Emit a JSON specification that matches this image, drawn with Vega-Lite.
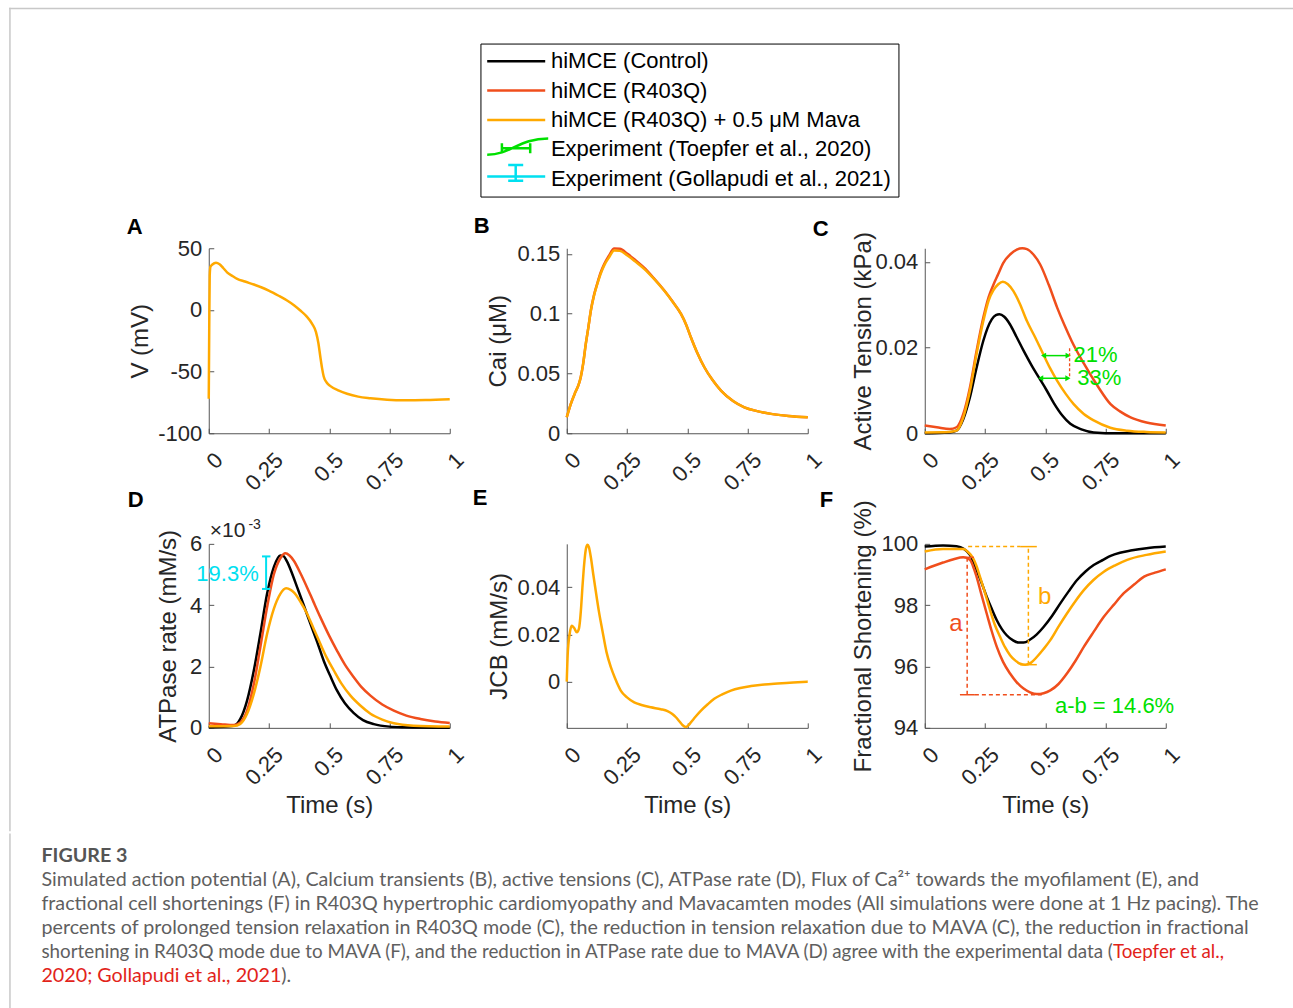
{
"$schema": "https://vega.github.io/schema/vega-lite/v6.json",
"background": "white",
"padding": {"left": 8.75, "top": 7.25, "right": 0, "bottom": 0},
"center": false,
"spacing": 0,
"vconcat": [
{
"columns": 3,
"bounds": "flush",
"spacing": {"row": 110.6, "column": 117},
"concat": [
{
"width": 241, "height": 185,
"title": {"text": "A", "anchor": "start", "frame": "group", "offset": 0, "baseline": "alphabetic", "dx": -82, "dy": 248.45, "fontSize": 22, "fontWeight": "bold", "font": "Liberation Sans", "color": "#000000"},
"layer": [
{
"data": {"values": [{"t": -0.8249, "t2": 4.4987, "v": 244.35, "v2": 244.35}, {"t": -0.8249, "t2": -0.8249, "v": 244.35, "v2": -422.14}]},
"mark": {"type": "rule", "color": "#c8c8c8", "strokeWidth": 1.5, "strokeCap": "square"},
"encoding": {"x": {"field": "t", "type": "quantitative"}, "x2": {"field": "t2"}, "y": {"field": "v", "type": "quantitative"}, "y2": {"field": "v2"}}
},
{
"data": {"values": [
{"s":"o","t":0,"v":-72},{"s":"o","t":0.002,"v":-15},{"s":"o","t":0.004,"v":28},{"s":"o","t":0.007,"v":35},{"s":"o","t":0.015,"v":36.8},{"s":"o","t":0.03,"v":38.3},{"s":"o","t":0.045,"v":37},{"s":"o","t":0.06,"v":34},{"s":"o","t":0.076,"v":30.5},{"s":"o","t":0.1,"v":27.3},{"s":"o","t":0.118,"v":25.2},{"s":"o","t":0.15,"v":23},{"s":"o","t":0.187,"v":20.6},{"s":"o","t":0.22,"v":18.2},{"s":"o","t":0.249,"v":15.7},{"s":"o","t":0.29,"v":11.5},{"s":"o","t":0.325,"v":7.6},{"s":"o","t":0.355,"v":3.6},{"s":"o","t":0.38,"v":-0.5},{"s":"o","t":0.405,"v":-5},{"s":"o","t":0.429,"v":-11.3},{"s":"o","t":0.445,"v":-18},{"s":"o","t":0.455,"v":-27},{"s":"o","t":0.463,"v":-38},{"s":"o","t":0.47,"v":-47},{"s":"o","t":0.477,"v":-54},{"s":"o","t":0.49,"v":-59},{"s":"o","t":0.505,"v":-61.8},{"s":"o","t":0.54,"v":-65.5},{"s":"o","t":0.574,"v":-68},{"s":"o","t":0.62,"v":-70.3},{"s":"o","t":0.671,"v":-71.6},{"s":"o","t":0.74,"v":-72.8},{"s":"o","t":0.809,"v":-73.3},{"s":"o","t":0.9,"v":-73.1},{"s":"o","t":1,"v":-72.4}
]},
"mark": {"type": "line", "strokeWidth": 2.5, "interpolate": "monotone"},
"encoding": {
"x": {"field": "t", "type": "quantitative", "scale": {"domain": [0, 1], "nice": false, "zero": false}, "axis": {"values": [0, 0.25, 0.5, 0.75, 1], "labelExpr": "''+datum.value", "title": null}},
"y": {"field": "v", "type": "quantitative", "scale": {"domain": [-100, 50], "nice": false, "zero": false}, "axis": {"values": [-100, -50, 0, 50], "labelExpr": "''+datum.value", "title": "V (mV)", "titlePadding": 5}},
"color": {"field": "s", "type": "nominal", "scale": {"domain": ["k","r","o","g","c"], "range": ["#000000","#f04e1c","#ffa900","#00e000","#00e0f0"]},
"legend": {"title": null, "orient": "none", "legendX": 271.7, "legendY": -204.7, "direction": "vertical", "labelFont": "Liberation Sans", "labelFontSize": 22, "labelColor": "#000000", "labelLimit": 0, "labelOffset": 41.75, "symbolSize": 100, "symbolStrokeWidth": 2.5, "symbolType": "M-2.2,0 L9.4,0", "rowPadding": -0.7, "padding": 6.75, "strokeColor": "#000000", "fillColor": "#ffffff",
"labelExpr": "datum.value=='k'?'hiMCE (Control)':datum.value=='r'?'hiMCE (R403Q)':datum.value=='o'?'hiMCE (R403Q) + 0.5 μM Mava':datum.value=='g'?'Experiment (Toepfer et al., 2020)':'Experiment (Gollapudi et al., 2021)'",
"encode": {"symbols": {"update": {"fill": {"value": "transparent"}, "shape": {"signal": "datum.value=='g'?'M-2.2,1.1 C2.6,1.1 4.1,-2.14 10,-2.14 M0.74,-0.2 L6.4,-0.2 M0.74,-1.2 L0.74,0.8 M6.4,-1.2 L6.4,0.8 M-2.2,-2.7 l0,0 M-2.2,1.1 l0,0':datum.value=='c'?'M-2.2,-0.4 L9.4,-0.4 M3.5,-2.7 L3.5,0.46 M2,-2.7 L5,-2.7 M2,0.46 L5,0.46 M-2.2,1.1 l0,0':'M-2.2,0 L9.4,0 M-2.2,-2.7 l0,0 M-2.2,1.1 l0,0'"}}}}}}
}
}
]
},
{
"width": 241, "height": 185,
"title": {"text": "B", "anchor": "start", "frame": "group", "offset": 0, "baseline": "alphabetic", "dx": -93, "dy": 12.4, "fontSize": 22, "fontWeight": "bold", "font": "Liberation Sans", "color": "#000000"},
"layer": [
{
"data": {"values": [
{"s":"r","t":0,"v":0.0134},{"s":"r","t":0.017,"v":0.0246},{"s":"r","t":0.035,"v":0.034},{"s":"r","t":0.05,"v":0.041},{"s":"r","t":0.058,"v":0.0468},{"s":"r","t":0.068,"v":0.058},{"s":"r","t":0.079,"v":0.0747},{"s":"r","t":0.09,"v":0.089},{"s":"r","t":0.1,"v":0.1026},{"s":"r","t":0.113,"v":0.1155},{"s":"r","t":0.127,"v":0.1255},{"s":"r","t":0.14,"v":0.134},{"s":"r","t":0.155,"v":0.1412},{"s":"r","t":0.175,"v":0.1485},{"s":"r","t":0.197,"v":0.1545},{"s":"r","t":0.22,"v":0.1542},{"s":"r","t":0.252,"v":0.15},{"s":"r","t":0.285,"v":0.1447},{"s":"r","t":0.321,"v":0.1385},{"s":"r","t":0.36,"v":0.13},{"s":"r","t":0.404,"v":0.1195},{"s":"r","t":0.44,"v":0.1099},{"s":"r","t":0.474,"v":0.0998},{"s":"r","t":0.495,"v":0.091},{"s":"r","t":0.515,"v":0.0803},{"s":"r","t":0.54,"v":0.068},{"s":"r","t":0.571,"v":0.0552},{"s":"r","t":0.605,"v":0.0445},{"s":"r","t":0.64,"v":0.0357},{"s":"r","t":0.69,"v":0.027},{"s":"r","t":0.737,"v":0.0217},{"s":"r","t":0.79,"v":0.0185},{"s":"r","t":0.848,"v":0.0162},{"s":"r","t":0.92,"v":0.0145},{"s":"r","t":1,"v":0.0134},
{"s":"o","t":0,"v":0.0134},{"s":"o","t":0.017,"v":0.0246},{"s":"o","t":0.035,"v":0.034},{"s":"o","t":0.05,"v":0.041},{"s":"o","t":0.058,"v":0.0468},{"s":"o","t":0.068,"v":0.058},{"s":"o","t":0.079,"v":0.0747},{"s":"o","t":0.09,"v":0.089},{"s":"o","t":0.1,"v":0.1026},{"s":"o","t":0.113,"v":0.115},{"s":"o","t":0.127,"v":0.1249},{"s":"o","t":0.14,"v":0.133},{"s":"o","t":0.155,"v":0.1402},{"s":"o","t":0.175,"v":0.147},{"s":"o","t":0.197,"v":0.1528},{"s":"o","t":0.22,"v":0.1525},{"s":"o","t":0.252,"v":0.1486},{"s":"o","t":0.285,"v":0.1435},{"s":"o","t":0.321,"v":0.1375},{"s":"o","t":0.36,"v":0.1295},{"s":"o","t":0.404,"v":0.1193},{"s":"o","t":0.44,"v":0.1098},{"s":"o","t":0.474,"v":0.0998},{"s":"o","t":0.495,"v":0.091},{"s":"o","t":0.515,"v":0.0803},{"s":"o","t":0.54,"v":0.068},{"s":"o","t":0.571,"v":0.0552},{"s":"o","t":0.605,"v":0.0445},{"s":"o","t":0.64,"v":0.0357},{"s":"o","t":0.69,"v":0.027},{"s":"o","t":0.737,"v":0.0217},{"s":"o","t":0.79,"v":0.0185},{"s":"o","t":0.848,"v":0.0162},{"s":"o","t":0.92,"v":0.0145},{"s":"o","t":1,"v":0.0134}
]},
"mark": {"type": "line", "strokeWidth": 2.5, "interpolate": "monotone"},
"encoding": {
"x": {"field": "t", "type": "quantitative", "scale": {"domain": [0, 1], "nice": false, "zero": false}, "axis": {"values": [0, 0.25, 0.5, 0.75, 1], "labelExpr": "''+datum.value", "title": null}},
"y": {"field": "v", "type": "quantitative", "scale": {"domain": [0, 0.1547], "nice": false, "zero": false}, "axis": {"values": [0, 0.05, 0.1, 0.15], "labelExpr": "''+datum.value", "title": "Cai (μM)", "titlePadding": 6.3}},
"color": {"field": "s", "type": "nominal", "scale": {"domain": ["k","r","o","g","c"], "range": ["#000000","#f04e1c","#ffa900","#00e000","#00e0f0"]},
"legend": {"title": null, "orient": "none", "legendX": 271.7, "legendY": -204.7, "direction": "vertical", "labelFont": "Liberation Sans", "labelFontSize": 22, "labelColor": "#000000", "labelLimit": 0, "labelOffset": 41.75, "symbolSize": 100, "symbolStrokeWidth": 2.5, "symbolType": "M-2.2,0 L9.4,0", "rowPadding": -0.7, "padding": 6.75, "strokeColor": "#000000", "fillColor": "#ffffff",
"labelExpr": "datum.value=='k'?'hiMCE (Control)':datum.value=='r'?'hiMCE (R403Q)':datum.value=='o'?'hiMCE (R403Q) + 0.5 μM Mava':datum.value=='g'?'Experiment (Toepfer et al., 2020)':'Experiment (Gollapudi et al., 2021)'",
"encode": {"symbols": {"update": {"fill": {"value": "transparent"}, "shape": {"signal": "datum.value=='g'?'M-2.2,1.1 C2.6,1.1 4.1,-2.14 10,-2.14 M0.74,-0.2 L6.4,-0.2 M0.74,-1.2 L0.74,0.8 M6.4,-1.2 L6.4,0.8 M-2.2,-2.7 l0,0 M-2.2,1.1 l0,0':datum.value=='c'?'M-2.2,-0.4 L9.4,-0.4 M3.5,-2.7 L3.5,0.46 M2,-2.7 L5,-2.7 M2,0.46 L5,0.46 M-2.2,1.1 l0,0':'M-2.2,0 L9.4,0 M-2.2,-2.7 l0,0 M-2.2,1.1 l0,0'"}}}}}}
}
}
]
},
{
"width": 241, "height": 185,
"title": {"text": "C", "anchor": "start", "frame": "group", "offset": 0, "baseline": "alphabetic", "dx": -112, "dy": 26.2, "fontSize": 22, "fontWeight": "bold", "font": "Liberation Sans", "color": "#000000"},
"layer": [
{
"data": {"values": [
{"s":"k","t":0,"v":0},{"s":"k","t":0.1,"v":0.0002},{"s":"k","t":0.132,"v":0.0006},{"s":"k","t":0.16,"v":0.0033},{"s":"k","t":0.1875,"v":0.0084},{"s":"k","t":0.215,"v":0.0153},{"s":"k","t":0.243,"v":0.0216},{"s":"k","t":0.26,"v":0.0245},{"s":"k","t":0.278,"v":0.0266},{"s":"k","t":0.295,"v":0.0276},{"s":"k","t":0.31,"v":0.0278},{"s":"k","t":0.33,"v":0.0272},{"s":"k","t":0.354,"v":0.0254},{"s":"k","t":0.38,"v":0.0226},{"s":"k","t":0.41,"v":0.0193},{"s":"k","t":0.445,"v":0.0157},{"s":"k","t":0.476,"v":0.0128},{"s":"k","t":0.505,"v":0.0101},{"s":"k","t":0.535,"v":0.0071},{"s":"k","t":0.57,"v":0.0042},{"s":"k","t":0.604,"v":0.0022},{"s":"k","t":0.65,"v":0.0009},{"s":"k","t":0.701,"v":0.0002},{"s":"k","t":0.8,"v":0},{"s":"k","t":1,"v":0},
{"s":"r","t":0,"v":0.0018},{"s":"r","t":0.05,"v":0.0014},{"s":"r","t":0.104,"v":0.001},{"s":"r","t":0.132,"v":0.0014},{"s":"r","t":0.16,"v":0.0045},{"s":"r","t":0.1875,"v":0.0107},{"s":"r","t":0.215,"v":0.0192},{"s":"r","t":0.243,"v":0.027},{"s":"r","t":0.265,"v":0.0318},{"s":"r","t":0.285,"v":0.0347},{"s":"r","t":0.305,"v":0.0372},{"s":"r","t":0.326,"v":0.0398},{"s":"r","t":0.355,"v":0.0418},{"s":"r","t":0.382,"v":0.0429},{"s":"r","t":0.405,"v":0.0432},{"s":"r","t":0.424,"v":0.043},{"s":"r","t":0.45,"v":0.0418},{"s":"r","t":0.479,"v":0.0394},{"s":"r","t":0.515,"v":0.0346},{"s":"r","t":0.549,"v":0.0294},{"s":"r","t":0.58,"v":0.0252},{"s":"r","t":0.61,"v":0.0215},{"s":"r","t":0.66,"v":0.0163},{"s":"r","t":0.72,"v":0.0108},{"s":"r","t":0.771,"v":0.0068},{"s":"r","t":0.81,"v":0.0051},{"s":"r","t":0.854,"v":0.0037},{"s":"r","t":0.92,"v":0.0025},{"s":"r","t":1,"v":0.0018},
{"s":"o","t":0,"v":0.0002},{"s":"o","t":0.1,"v":0.0003},{"s":"o","t":0.132,"v":0.0006},{"s":"o","t":0.16,"v":0.0037},{"s":"o","t":0.1875,"v":0.0099},{"s":"o","t":0.215,"v":0.0185},{"s":"o","t":0.243,"v":0.0262},{"s":"o","t":0.265,"v":0.031},{"s":"o","t":0.285,"v":0.0334},{"s":"o","t":0.305,"v":0.0348},{"s":"o","t":0.324,"v":0.0354},{"s":"o","t":0.345,"v":0.0348},{"s":"o","t":0.368,"v":0.0332},{"s":"o","t":0.395,"v":0.0302},{"s":"o","t":0.424,"v":0.0262},{"s":"o","t":0.46,"v":0.0222},{"s":"o","t":0.493,"v":0.0183},{"s":"o","t":0.52,"v":0.0152},{"s":"o","t":0.549,"v":0.0123},{"s":"o","t":0.585,"v":0.0092},{"s":"o","t":0.618,"v":0.0068},{"s":"o","t":0.66,"v":0.0045},{"s":"o","t":0.701,"v":0.003},{"s":"o","t":0.77,"v":0.0013},{"s":"o","t":0.84,"v":0.0006},{"s":"o","t":0.92,"v":0.0003},{"s":"o","t":1,"v":0.0002}
]},
"mark": {"type": "line", "strokeWidth": 2.5, "interpolate": "monotone"},
"encoding": {
"x": {"field": "t", "type": "quantitative", "scale": {"domain": [0, 1], "nice": false, "zero": false}, "axis": {"values": [0, 0.25, 0.5, 0.75, 1], "labelExpr": "''+datum.value", "title": null}},
"y": {"field": "v", "type": "quantitative", "scale": {"domain": [0, 0.0432], "nice": false, "zero": false}, "axis": {"values": [0, 0.02, 0.04], "labelExpr": "''+datum.value", "title": "Active Tension (kPa)", "titlePadding": -1}},
"color": {"field": "s", "type": "nominal", "scale": {"domain": ["k","r","o","g","c"], "range": ["#000000","#f04e1c","#ffa900","#00e000","#00e0f0"]},
"legend": {"title": null, "orient": "none", "legendX": 271.7, "legendY": -204.7, "direction": "vertical", "labelFont": "Liberation Sans", "labelFontSize": 22, "labelColor": "#000000", "labelLimit": 0, "labelOffset": 41.75, "symbolSize": 100, "symbolStrokeWidth": 2.5, "symbolType": "M-2.2,0 L9.4,0", "rowPadding": -0.7, "padding": 6.75, "strokeColor": "#000000", "fillColor": "#ffffff",
"labelExpr": "datum.value=='k'?'hiMCE (Control)':datum.value=='r'?'hiMCE (R403Q)':datum.value=='o'?'hiMCE (R403Q) + 0.5 μM Mava':datum.value=='g'?'Experiment (Toepfer et al., 2020)':'Experiment (Gollapudi et al., 2021)'",
"encode": {"symbols": {"update": {"fill": {"value": "transparent"}, "shape": {"signal": "datum.value=='g'?'M-2.2,1.1 C2.6,1.1 4.1,-2.14 10,-2.14 M0.74,-0.2 L6.4,-0.2 M0.74,-1.2 L0.74,0.8 M6.4,-1.2 L6.4,0.8 M-2.2,-2.7 l0,0 M-2.2,1.1 l0,0':datum.value=='c'?'M-2.2,-0.4 L9.4,-0.4 M3.5,-2.7 L3.5,0.46 M2,-2.7 L5,-2.7 M2,0.46 L5,0.46 M-2.2,1.1 l0,0':'M-2.2,0 L9.4,0 M-2.2,-2.7 l0,0 M-2.2,1.1 l0,0'"}}}}}}
}
},
{
"data": {"values": [{"t":0.49,"t2":0.598,"v":0.01813},{"t":0.478,"t2":0.597,"v":0.01284}]},
"mark": {"type": "rule", "color": "#00e000", "strokeWidth": 1.5},
"encoding": {"x": {"field": "t", "type": "quantitative"}, "x2": {"field": "t2"}, "y": {"field": "v", "type": "quantitative"}}
},
{
"data": {"values": [{"t":0.493,"v":0.01813},{"t":0.481,"v":0.01284}]},
"mark": {"type": "point", "shape": "triangle-left", "filled": true, "color": "#00e000", "size": 35, "opacity": 1},
"encoding": {"x": {"field": "t", "type": "quantitative"}, "y": {"field": "v", "type": "quantitative"}}
},
{
"data": {"values": [{"t":0.595,"v":0.01813},{"t":0.594,"v":0.01284}]},
"mark": {"type": "point", "shape": "triangle-right", "filled": true, "color": "#00e000", "size": 35, "opacity": 1},
"encoding": {"x": {"field": "t", "type": "quantitative"}, "y": {"field": "v", "type": "quantitative"}}
},
{
"data": {"values": [{"t":0.601,"v":0.0133,"v2":0.0200}]},
"mark": {"type": "rule", "color": "#f04e1c", "strokeWidth": 1.3, "strokeDash": [3, 2]},
"encoding": {"x": {"field": "t", "type": "quantitative"}, "y": {"field": "v", "type": "quantitative"}, "y2": {"field": "v2"}}
},
{
"data": {"values": [{"t":0.617,"v":0.01837,"label":"21%"},{"t":0.633,"v":0.0130,"label":"33%"}]},
"mark": {"type": "text", "align": "left", "baseline": "middle", "font": "Liberation Sans", "fontSize": 22, "color": "#00e000"},
"encoding": {"x": {"field": "t", "type": "quantitative"}, "y": {"field": "v", "type": "quantitative"}, "text": {"field": "label"}}
}
]
},
{
"width": 241, "height": 184,
"title": {"text": "D", "anchor": "start", "frame": "group", "offset": 0, "baseline": "alphabetic", "dx": -81, "dy": 11.8, "fontSize": 22, "fontWeight": "bold", "font": "Liberation Sans", "color": "#000000"},
"layer": [
{
"data": {"values": [
{"s":"k","t":0,"v":0.02},{"s":"k","t":0.104,"v":0.07},{"s":"k","t":0.131,"v":0.29},{"s":"k","t":0.159,"v":0.89},{"s":"k","t":0.187,"v":1.87},{"s":"k","t":0.214,"v":3.06},{"s":"k","t":0.242,"v":4.37},{"s":"k","t":0.27,"v":5.24},{"s":"k","t":0.297,"v":5.62},{"s":"k","t":0.31,"v":5.6},{"s":"k","t":0.325,"v":5.42},{"s":"k","t":0.345,"v":5.05},{"s":"k","t":0.367,"v":4.58},{"s":"k","t":0.395,"v":3.98},{"s":"k","t":0.422,"v":3.39},{"s":"k","t":0.45,"v":2.8},{"s":"k","t":0.477,"v":2.19},{"s":"k","t":0.505,"v":1.68},{"s":"k","t":0.532,"v":1.22},{"s":"k","t":0.565,"v":0.8},{"s":"k","t":0.602,"v":0.48},{"s":"k","t":0.64,"v":0.25},{"s":"k","t":0.685,"v":0.12},{"s":"k","t":0.75,"v":0.04},{"s":"k","t":0.81,"v":0.02},{"s":"k","t":1,"v":0},
{"s":"r","t":0,"v":0.15},{"s":"r","t":0.05,"v":0.12},{"s":"r","t":0.104,"v":0.09},{"s":"r","t":0.131,"v":0.18},{"s":"r","t":0.159,"v":0.56},{"s":"r","t":0.187,"v":1.43},{"s":"r","t":0.214,"v":2.63},{"s":"r","t":0.242,"v":3.93},{"s":"r","t":0.27,"v":5.0},{"s":"r","t":0.297,"v":5.53},{"s":"r","t":0.318,"v":5.69},{"s":"r","t":0.335,"v":5.62},{"s":"r","t":0.353,"v":5.45},{"s":"r","t":0.38,"v":5.05},{"s":"r","t":0.408,"v":4.58},{"s":"r","t":0.435,"v":4.1},{"s":"r","t":0.463,"v":3.61},{"s":"r","t":0.5,"v":3.0},{"s":"r","t":0.532,"v":2.52},{"s":"r","t":0.565,"v":2.06},{"s":"r","t":0.602,"v":1.65},{"s":"r","t":0.635,"v":1.32},{"s":"r","t":0.671,"v":1.05},{"s":"r","t":0.72,"v":0.76},{"s":"r","t":0.768,"v":0.56},{"s":"r","t":0.82,"v":0.4},{"s":"r","t":0.878,"v":0.29},{"s":"r","t":0.94,"v":0.21},{"s":"r","t":1,"v":0.16},
{"s":"o","t":0,"v":0.05},{"s":"o","t":0.104,"v":0.06},{"s":"o","t":0.131,"v":0.13},{"s":"o","t":0.159,"v":0.46},{"s":"o","t":0.187,"v":1.11},{"s":"o","t":0.214,"v":1.98},{"s":"o","t":0.242,"v":3.06},{"s":"o","t":0.27,"v":3.88},{"s":"o","t":0.297,"v":4.37},{"s":"o","t":0.321,"v":4.55},{"s":"o","t":0.34,"v":4.5},{"s":"o","t":0.353,"v":4.42},{"s":"o","t":0.38,"v":4.12},{"s":"o","t":0.408,"v":3.72},{"s":"o","t":0.435,"v":3.24},{"s":"o","t":0.463,"v":2.74},{"s":"o","t":0.49,"v":2.28},{"s":"o","t":0.519,"v":1.87},{"s":"o","t":0.55,"v":1.45},{"s":"o","t":0.588,"v":1.05},{"s":"o","t":0.63,"v":0.72},{"s":"o","t":0.671,"v":0.46},{"s":"o","t":0.72,"v":0.27},{"s":"o","t":0.768,"v":0.15},{"s":"o","t":0.85,"v":0.07},{"s":"o","t":1,"v":0.04}
]},
"mark": {"type": "line", "strokeWidth": 2.5, "interpolate": "monotone"},
"encoding": {
"x": {"field": "t", "type": "quantitative", "scale": {"domain": [0, 1], "nice": false, "zero": false}, "axis": {"values": [0, 0.25, 0.5, 0.75, 1], "labelExpr": "''+datum.value", "title": "Time (s)"}},
"y": {"field": "v", "type": "quantitative", "scale": {"domain": [0, 6], "nice": false, "zero": false}, "axis": {"values": [0, 2, 4, 6], "labelExpr": "''+datum.value", "title": "ATPase rate (mM/s)", "titlePadding": 9.3}},
"color": {"field": "s", "type": "nominal", "scale": {"domain": ["k","r","o","g","c"], "range": ["#000000","#f04e1c","#ffa900","#00e000","#00e0f0"]},
"legend": {"title": null, "orient": "none", "legendX": 271.7, "legendY": -204.7, "direction": "vertical", "labelFont": "Liberation Sans", "labelFontSize": 22, "labelColor": "#000000", "labelLimit": 0, "labelOffset": 41.75, "symbolSize": 100, "symbolStrokeWidth": 2.5, "symbolType": "M-2.2,0 L9.4,0", "rowPadding": -0.7, "padding": 6.75, "strokeColor": "#000000", "fillColor": "#ffffff",
"labelExpr": "datum.value=='k'?'hiMCE (Control)':datum.value=='r'?'hiMCE (R403Q)':datum.value=='o'?'hiMCE (R403Q) + 0.5 μM Mava':datum.value=='g'?'Experiment (Toepfer et al., 2020)':'Experiment (Gollapudi et al., 2021)'",
"encode": {"symbols": {"update": {"fill": {"value": "transparent"}, "shape": {"signal": "datum.value=='g'?'M-2.2,1.1 C2.6,1.1 4.1,-2.14 10,-2.14 M0.74,-0.2 L6.4,-0.2 M0.74,-1.2 L0.74,0.8 M6.4,-1.2 L6.4,0.8 M-2.2,-2.7 l0,0 M-2.2,1.1 l0,0':datum.value=='c'?'M-2.2,-0.4 L9.4,-0.4 M3.5,-2.7 L3.5,0.46 M2,-2.7 L5,-2.7 M2,0.46 L5,0.46 M-2.2,1.1 l0,0':'M-2.2,0 L9.4,0 M-2.2,-2.7 l0,0 M-2.2,1.1 l0,0'"}}}}}}
}
},
{
"data": {"values": [{"t":0.238,"t2":0.238,"v":4.53,"v2":5.59},{"t":0.221,"t2":0.256,"v":5.59,"v2":5.59},{"t":0.221,"t2":0.256,"v":4.53,"v2":4.53}]},
"mark": {"type": "rule", "color": "#00e0f0", "strokeWidth": 2},
"encoding": {"x": {"field": "t", "type": "quantitative"}, "x2": {"field": "t2"}, "y": {"field": "v", "type": "quantitative"}, "y2": {"field": "v2"}}
},
{
"data": {"values": [{"t":0.2075,"v":5.02,"label":"19.3%"}]},
"mark": {"type": "text", "align": "right", "baseline": "middle", "font": "Liberation Sans", "fontSize": 22, "color": "#00e0f0"},
"encoding": {"x": {"field": "t", "type": "quantitative"}, "y": {"field": "v", "type": "quantitative"}, "text": {"field": "label"}}
},
{
"data": {"values": [{"t":0,"v":6,"label":"×10"}]},
"mark": {"type": "text", "align": "left", "baseline": "alphabetic", "dx": 1, "dy": -6.6, "font": "Liberation Sans", "fontSize": 21, "color": "#262626"},
"encoding": {"x": {"field": "t", "type": "quantitative"}, "y": {"field": "v", "type": "quantitative"}, "text": {"field": "label"}}
},
{
"data": {"values": [{"t":0,"v":6,"label":"-3"}]},
"mark": {"type": "text", "align": "left", "baseline": "alphabetic", "dx": 39.7, "dy": -15.3, "font": "Liberation Sans", "fontSize": 14, "color": "#262626"},
"encoding": {"x": {"field": "t", "type": "quantitative"}, "y": {"field": "v", "type": "quantitative"}, "text": {"field": "label"}}
}
]
},
{
"width": 241, "height": 184,
"title": {"text": "E", "anchor": "start", "frame": "group", "offset": 0, "baseline": "alphabetic", "dx": -94, "dy": -12.3, "fontSize": 22, "fontWeight": "bold", "font": "Liberation Sans", "color": "#000000"},
"layer": [
{
"data": {"values": [
{"s":"o","t":0,"v":0},{"s":"o","t":0.004,"v":0.0117},{"s":"o","t":0.012,"v":0.0202},{"s":"o","t":0.021,"v":0.0237},{"s":"o","t":0.03,"v":0.0228},{"s":"o","t":0.042,"v":0.0209},{"s":"o","t":0.05,"v":0.0222},{"s":"o","t":0.055,"v":0.0258},{"s":"o","t":0.06,"v":0.032},{"s":"o","t":0.065,"v":0.04},{"s":"o","t":0.07,"v":0.047},{"s":"o","t":0.075,"v":0.0527},{"s":"o","t":0.08,"v":0.0565},{"s":"o","t":0.086,"v":0.058},{"s":"o","t":0.092,"v":0.057},{"s":"o","t":0.1,"v":0.0527},{"s":"o","t":0.11,"v":0.0455},{"s":"o","t":0.12,"v":0.0386},{"s":"o","t":0.133,"v":0.03},{"s":"o","t":0.148,"v":0.0216},{"s":"o","t":0.165,"v":0.0125},{"s":"o","t":0.183,"v":0.0061},{"s":"o","t":0.2,"v":0.0015},{"s":"o","t":0.224,"v":-0.0038},{"s":"o","t":0.25,"v":-0.0067},{"s":"o","t":0.28,"v":-0.0088},{"s":"o","t":0.31,"v":-0.0099},{"s":"o","t":0.349,"v":-0.0109},{"s":"o","t":0.39,"v":-0.0117},{"s":"o","t":0.418,"v":-0.0125},{"s":"o","t":0.438,"v":-0.0137},{"s":"o","t":0.453,"v":-0.0151},{"s":"o","t":0.467,"v":-0.0168},{"s":"o","t":0.48,"v":-0.0184},{"s":"o","t":0.494,"v":-0.0192},{"s":"o","t":0.505,"v":-0.0185},{"s":"o","t":0.515,"v":-0.0173},{"s":"o","t":0.535,"v":-0.0148},{"s":"o","t":0.557,"v":-0.0123},{"s":"o","t":0.585,"v":-0.0096},{"s":"o","t":0.612,"v":-0.0073},{"s":"o","t":0.645,"v":-0.0054},{"s":"o","t":0.681,"v":-0.0038},{"s":"o","t":0.72,"v":-0.0027},{"s":"o","t":0.765,"v":-0.0019},{"s":"o","t":0.82,"v":-0.0012},{"s":"o","t":0.875,"v":-0.0008},{"s":"o","t":0.94,"v":-0.0004},{"s":"o","t":1,"v":0}
]},
"mark": {"type": "line", "strokeWidth": 2.5, "interpolate": "monotone"},
"encoding": {
"x": {"field": "t", "type": "quantitative", "scale": {"domain": [0, 1], "nice": false, "zero": false}, "axis": {"values": [0, 0.25, 0.5, 0.75, 1], "labelExpr": "''+datum.value", "title": "Time (s)"}},
"y": {"field": "v", "type": "quantitative", "scale": {"domain": [-0.0196, 0.0584], "nice": false, "zero": false}, "axis": {"values": [0, 0.02, 0.04], "labelExpr": "''+datum.value", "title": "JCB (mM/s)", "titlePadding": 5.3}},
"color": {"field": "s", "type": "nominal", "scale": {"domain": ["k","r","o","g","c"], "range": ["#000000","#f04e1c","#ffa900","#00e000","#00e0f0"]},
"legend": {"title": null, "orient": "none", "legendX": 271.7, "legendY": -204.7, "direction": "vertical", "labelFont": "Liberation Sans", "labelFontSize": 22, "labelColor": "#000000", "labelLimit": 0, "labelOffset": 41.75, "symbolSize": 100, "symbolStrokeWidth": 2.5, "symbolType": "M-2.2,0 L9.4,0", "rowPadding": -0.7, "padding": 6.75, "strokeColor": "#000000", "fillColor": "#ffffff",
"labelExpr": "datum.value=='k'?'hiMCE (Control)':datum.value=='r'?'hiMCE (R403Q)':datum.value=='o'?'hiMCE (R403Q) + 0.5 μM Mava':datum.value=='g'?'Experiment (Toepfer et al., 2020)':'Experiment (Gollapudi et al., 2021)'",
"encode": {"symbols": {"update": {"fill": {"value": "transparent"}, "shape": {"signal": "datum.value=='g'?'M-2.2,1.1 C2.6,1.1 4.1,-2.14 10,-2.14 M0.74,-0.2 L6.4,-0.2 M0.74,-1.2 L0.74,0.8 M6.4,-1.2 L6.4,0.8 M-2.2,-2.7 l0,0 M-2.2,1.1 l0,0':datum.value=='c'?'M-2.2,-0.4 L9.4,-0.4 M3.5,-2.7 L3.5,0.46 M2,-2.7 L5,-2.7 M2,0.46 L5,0.46 M-2.2,1.1 l0,0':'M-2.2,0 L9.4,0 M-2.2,-2.7 l0,0 M-2.2,1.1 l0,0'"}}}}}}
}
}
]
},
{
"width": 241, "height": 184,
"title": {"text": "F", "anchor": "start", "frame": "group", "offset": 0, "baseline": "alphabetic", "dx": -105, "dy": 29.4, "fontSize": 22, "fontWeight": "bold", "font": "Liberation Sans", "color": "#000000"},
"layer": [
{
"data": {"values": [
{"s":"k","t":0,"v":99.91},{"s":"k","t":0.076,"v":99.95},{"s":"k","t":0.132,"v":99.92},{"s":"k","t":0.16,"v":99.85},{"s":"k","t":0.1875,"v":99.64},{"s":"k","t":0.2,"v":99.45},{"s":"k","t":0.215,"v":99.15},{"s":"k","t":0.235,"v":98.75},{"s":"k","t":0.257,"v":98.28},{"s":"k","t":0.278,"v":97.88},{"s":"k","t":0.299,"v":97.51},{"s":"k","t":0.32,"v":97.22},{"s":"k","t":0.34,"v":97.02},{"s":"k","t":0.365,"v":96.86},{"s":"k","t":0.389,"v":96.78},{"s":"k","t":0.41,"v":96.78},{"s":"k","t":0.4375,"v":96.88},{"s":"k","t":0.465,"v":97.05},{"s":"k","t":0.493,"v":97.29},{"s":"k","t":0.528,"v":97.65},{"s":"k","t":0.5625,"v":98.06},{"s":"k","t":0.597,"v":98.45},{"s":"k","t":0.632,"v":98.82},{"s":"k","t":0.667,"v":99.1},{"s":"k","t":0.701,"v":99.31},{"s":"k","t":0.74,"v":99.48},{"s":"k","t":0.771,"v":99.61},{"s":"k","t":0.81,"v":99.71},{"s":"k","t":0.854,"v":99.78},{"s":"k","t":0.92,"v":99.86},{"s":"k","t":1,"v":99.91},
{"s":"r","t":0,"v":99.17},{"s":"r","t":0.076,"v":99.39},{"s":"r","t":0.12,"v":99.5},{"s":"r","t":0.16,"v":99.56},{"s":"r","t":0.1875,"v":99.48},{"s":"r","t":0.2,"v":99.28},{"s":"r","t":0.215,"v":98.93},{"s":"r","t":0.235,"v":98.35},{"s":"r","t":0.257,"v":97.73},{"s":"r","t":0.278,"v":97.15},{"s":"r","t":0.299,"v":96.64},{"s":"r","t":0.325,"v":96.15},{"s":"r","t":0.354,"v":95.77},{"s":"r","t":0.38,"v":95.5},{"s":"r","t":0.41,"v":95.28},{"s":"r","t":0.437,"v":95.16},{"s":"r","t":0.465,"v":95.1},{"s":"r","t":0.493,"v":95.13},{"s":"r","t":0.521,"v":95.22},{"s":"r","t":0.555,"v":95.43},{"s":"r","t":0.59,"v":95.77},{"s":"r","t":0.625,"v":96.18},{"s":"r","t":0.66,"v":96.64},{"s":"r","t":0.7,"v":97.12},{"s":"r","t":0.743,"v":97.62},{"s":"r","t":0.785,"v":98.02},{"s":"r","t":0.826,"v":98.39},{"s":"r","t":0.87,"v":98.68},{"s":"r","t":0.91,"v":98.93},{"s":"r","t":0.955,"v":99.06},{"s":"r","t":1,"v":99.17},
{"s":"o","t":0,"v":99.75},{"s":"o","t":0.076,"v":99.83},{"s":"o","t":0.16,"v":99.83},{"s":"o","t":0.18,"v":99.73},{"s":"o","t":0.201,"v":99.53},{"s":"o","t":0.215,"v":99.27},{"s":"o","t":0.229,"v":98.93},{"s":"o","t":0.25,"v":98.4},{"s":"o","t":0.271,"v":97.84},{"s":"o","t":0.29,"v":97.38},{"s":"o","t":0.3125,"v":96.97},{"s":"o","t":0.333,"v":96.63},{"s":"o","t":0.354,"v":96.37},{"s":"o","t":0.375,"v":96.2},{"s":"o","t":0.396,"v":96.09},{"s":"o","t":0.417,"v":96.06},{"s":"o","t":0.44,"v":96.12},{"s":"o","t":0.465,"v":96.31},{"s":"o","t":0.493,"v":96.57},{"s":"o","t":0.521,"v":96.86},{"s":"o","t":0.555,"v":97.3},{"s":"o","t":0.59,"v":97.73},{"s":"o","t":0.625,"v":98.13},{"s":"o","t":0.66,"v":98.49},{"s":"o","t":0.7,"v":98.82},{"s":"o","t":0.743,"v":99.09},{"s":"o","t":0.79,"v":99.3},{"s":"o","t":0.84,"v":99.48},{"s":"o","t":0.92,"v":99.64},{"s":"o","t":1,"v":99.75}
]},
"mark": {"type": "line", "strokeWidth": 2.5, "interpolate": "monotone"},
"encoding": {
"x": {"field": "t", "type": "quantitative", "scale": {"domain": [0, 1], "nice": false, "zero": false}, "axis": {"values": [0, 0.25, 0.5, 0.75, 1], "labelExpr": "''+datum.value", "title": "Time (s)"}},
"y": {"field": "v", "type": "quantitative", "scale": {"domain": [94, 100], "nice": false, "zero": false}, "axis": {"values": [94, 96, 98, 100], "labelExpr": "''+datum.value", "title": "Fractional Shortening (%)", "titlePadding": 5.3}},
"color": {"field": "s", "type": "nominal", "scale": {"domain": ["k","r","o","g","c"], "range": ["#000000","#f04e1c","#ffa900","#00e000","#00e0f0"]},
"legend": {"title": null, "orient": "none", "legendX": 271.7, "legendY": -204.7, "direction": "vertical", "labelFont": "Liberation Sans", "labelFontSize": 22, "labelColor": "#000000", "labelLimit": 0, "labelOffset": 41.75, "symbolSize": 100, "symbolStrokeWidth": 2.5, "symbolType": "M-2.2,0 L9.4,0", "rowPadding": -0.7, "padding": 6.75, "strokeColor": "#000000", "fillColor": "#ffffff",
"labelExpr": "datum.value=='k'?'hiMCE (Control)':datum.value=='r'?'hiMCE (R403Q)':datum.value=='o'?'hiMCE (R403Q) + 0.5 μM Mava':datum.value=='g'?'Experiment (Toepfer et al., 2020)':'Experiment (Gollapudi et al., 2021)'",
"encode": {"symbols": {"update": {"fill": {"value": "transparent"}, "shape": {"signal": "datum.value=='g'?'M-2.2,1.1 C2.6,1.1 4.1,-2.14 10,-2.14 M0.74,-0.2 L6.4,-0.2 M0.74,-1.2 L0.74,0.8 M6.4,-1.2 L6.4,0.8 M-2.2,-2.7 l0,0 M-2.2,1.1 l0,0':datum.value=='c'?'M-2.2,-0.4 L9.4,-0.4 M3.5,-2.7 L3.5,0.46 M2,-2.7 L5,-2.7 M2,0.46 L5,0.46 M-2.2,1.1 l0,0':'M-2.2,0 L9.4,0 M-2.2,-2.7 l0,0 M-2.2,1.1 l0,0'"}}}}}}
}
},
{
"data": {"values": [{"t":0.18,"t2":0.396,"v":99.91,"v2":99.91},{"t":0.43,"t2":0.43,"v":96.06,"v2":99.91}]},
"mark": {"type": "rule", "color": "#ffa900", "strokeWidth": 1.5, "strokeDash": [4, 3]},
"encoding": {"x": {"field": "t", "type": "quantitative"}, "x2": {"field": "t2"}, "y": {"field": "v", "type": "quantitative"}, "y2": {"field": "v2"}}
},
{
"data": {"values": [{"t":0.396,"t2":0.465,"v":99.91,"v2":99.91},{"t":0.396,"t2":0.465,"v":96.06,"v2":96.06}]},
"mark": {"type": "rule", "color": "#ffa900", "strokeWidth": 1.5},
"encoding": {"x": {"field": "t", "type": "quantitative"}, "x2": {"field": "t2"}, "y": {"field": "v", "type": "quantitative"}, "y2": {"field": "v2"}}
},
{
"data": {"values": [{"t":0.176,"t2":0.176,"v":95.08,"v2":99.56},{"t":0.208,"t2":0.493,"v":95.08,"v2":95.08}]},
"mark": {"type": "rule", "color": "#f04e1c", "strokeWidth": 1.5, "strokeDash": [4, 3]},
"encoding": {"x": {"field": "t", "type": "quantitative"}, "x2": {"field": "t2"}, "y": {"field": "v", "type": "quantitative"}, "y2": {"field": "v2"}}
},
{
"data": {"values": [{"t":0.153,"t2":0.204,"v":99.56,"v2":99.56},{"t":0.146,"t2":0.208,"v":95.08,"v2":95.08}]},
"mark": {"type": "rule", "color": "#f04e1c", "strokeWidth": 1.5},
"encoding": {"x": {"field": "t", "type": "quantitative"}, "x2": {"field": "t2"}, "y": {"field": "v", "type": "quantitative"}, "y2": {"field": "v2"}}
},
{
"data": {"values": [{"t":0.47,"v":98.28,"label":"b"}]},
"mark": {"type": "text", "align": "left", "baseline": "middle", "font": "Liberation Sans", "fontSize": 24, "color": "#ffa900"},
"encoding": {"x": {"field": "t", "type": "quantitative"}, "y": {"field": "v", "type": "quantitative"}, "text": {"field": "label"}}
},
{
"data": {"values": [{"t":0.157,"v":97.4,"label":"a"}]},
"mark": {"type": "text", "align": "right", "baseline": "middle", "font": "Liberation Sans", "fontSize": 24, "color": "#f04e1c"},
"encoding": {"x": {"field": "t", "type": "quantitative"}, "y": {"field": "v", "type": "quantitative"}, "text": {"field": "label"}}
},
{
"data": {"values": [{"t":1.035,"v":94.71,"label":"a-b = 14.6%"}]},
"mark": {"type": "text", "align": "right", "baseline": "middle", "font": "Liberation Sans", "fontSize": 22, "color": "#00e000"},
"encoding": {"x": {"field": "t", "type": "quantitative"}, "y": {"field": "v", "type": "quantitative"}, "text": {"field": "label"}}
}
]
}
]
},
{
"width": 1000, "height": 175,
"layer": [
{
"data": {"values": [{"px": 0, "top": -1.175, "bottom": 6.1167}]},
"mark": {"type": "rule", "color": "#c8c8c8", "strokeWidth": 1.5, "strokeCap": "square"},
"encoding": {"x": {"field": "px", "type": "quantitative", "scale": {"domain": [198.8, 1198.8], "nice": false, "zero": false}, "axis": null}, "y": {"field": "top", "type": "quantitative", "scale": {"domain": [-1.175, 6.1167], "nice": false, "zero": false, "reverse": true}, "axis": null}, "y2": {"field": "bottom"}}
},
{
"data": {"values": [{"px": 31.5, "line": 0, "text": "FIGURE 3"}]},
"mark": {"type": "text", "align": "left", "baseline": "alphabetic", "dy": 0, "font": "Lato", "fontSize": 19.7, "fontWeight": "bold", "color": "#555555"},
"encoding": {"x": {"field": "px", "type": "quantitative"}, "y": {"field": "line", "type": "quantitative"}, "text": {"field": "text"}}
},
{
"data": {"values": [
{"px": 31.5, "line": 1, "text": "Simulated action potential (A), Calcium transients (B), active tensions (C), ATPase rate (D), Flux of Ca²⁺ towards the myofilament (E), and"},
{"px": 31.5, "line": 2, "text": "fractional cell shortenings (F) in R403Q hypertrophic cardiomyopathy and Mavacamten modes (All simulations were done at 1 Hz pacing). The"},
{"px": 31.5, "line": 3, "text": "percents of prolonged tension relaxation in R403Q mode (C), the reduction in tension relaxation due to MAVA (C), the reduction in fractional"}
]},
"mark": {"type": "text", "align": "left", "baseline": "alphabetic", "font": "Lato", "fontSize": 19.7, "color": "#5f5f5f"},
"encoding": {"x": {"field": "px", "type": "quantitative"}, "y": {"field": "line", "type": "quantitative"}, "text": {"field": "text"}}
},
{
"data": {"values": [{"px": 31.5, "line": 4, "text": "shortening in R403Q mode due to MAVA (F), and the reduction in ATPase rate due to MAVA (D) agree with the experimental data (Toepfer et al.,"}]},
"mark": {"type": "text", "align": "left", "baseline": "alphabetic", "font": "Lato", "fontSize": 18.8, "color": "#e2231a"},
"encoding": {"x": {"field": "px", "type": "quantitative"}, "y": {"field": "line", "type": "quantitative"}, "text": {"field": "text"}}
},
{
"data": {"values": [{"px": 31.5, "line": 4, "text": "shortening in R403Q mode due to MAVA (F), and the reduction in ATPase rate due to MAVA (D) agree with the experimental data ("}]},
"mark": {"type": "text", "align": "left", "baseline": "alphabetic", "font": "Lato", "fontSize": 18.8, "color": "#ffffff", "stroke": "#ffffff", "strokeWidth": 1.6},
"encoding": {"x": {"field": "px", "type": "quantitative"}, "y": {"field": "line", "type": "quantitative"}, "text": {"field": "text"}}
},
{
"data": {"values": [{"px": 31.5, "line": 4, "text": "shortening in R403Q mode due to MAVA (F), and the reduction in ATPase rate due to MAVA (D) agree with the experimental data ("}]},
"mark": {"type": "text", "align": "left", "baseline": "alphabetic", "font": "Lato", "fontSize": 18.8, "color": "#5f5f5f"},
"encoding": {"x": {"field": "px", "type": "quantitative"}, "y": {"field": "line", "type": "quantitative"}, "text": {"field": "text"}}
},
{
"data": {"values": [{"px": 31.5, "line": 5, "text": "2020; Gollapudi et al., 2021)."}]},
"mark": {"type": "text", "align": "left", "baseline": "alphabetic", "font": "Lato", "fontSize": 19.7, "color": "#5f5f5f"},
"encoding": {"x": {"field": "px", "type": "quantitative"}, "y": {"field": "line", "type": "quantitative"}, "text": {"field": "text"}}
},
{
"data": {"values": [{"px": 31.5, "line": 5, "text": "2020; Gollapudi et al., 2021"}]},
"mark": {"type": "text", "align": "left", "baseline": "alphabetic", "font": "Lato", "fontSize": 19.7, "color": "#ffffff", "stroke": "#ffffff", "strokeWidth": 1.6},
"encoding": {"x": {"field": "px", "type": "quantitative"}, "y": {"field": "line", "type": "quantitative"}, "text": {"field": "text"}}
},
{
"data": {"values": [{"px": 31.5, "line": 5, "text": "2020; Gollapudi et al., 2021"}]},
"mark": {"type": "text", "align": "left", "baseline": "alphabetic", "font": "Lato", "fontSize": 19.7, "color": "#e2231a"},
"encoding": {"x": {"field": "px", "type": "quantitative"}, "y": {"field": "line", "type": "quantitative"}, "text": {"field": "text"}}
}
]
}
],
"config": {
"view": {"stroke": null},
"font": "Liberation Sans",
"axis": {"domainColor": "#555555", "domainWidth": 1, "tickColor": "#555555", "tickWidth": 1, "tickSize": -5, "labelFont": "Liberation Sans", "labelFontSize": 22, "labelColor": "#262626", "titleFont": "Liberation Sans", "titleFontSize": 24, "titleFontWeight": "normal", "titleColor": "#262626", "grid": false, "labelFlush": false, "labelOverlap": false, "labelBound": false},
"axisX": {"labelAngle": -45, "labelAlign": "right", "labelBaseline": "middle", "labelPadding": 28, "labelOffset": 10, "titlePadding": 5},
"axisY": {"labelPadding": 12, "titlePadding": 6}
}
}
